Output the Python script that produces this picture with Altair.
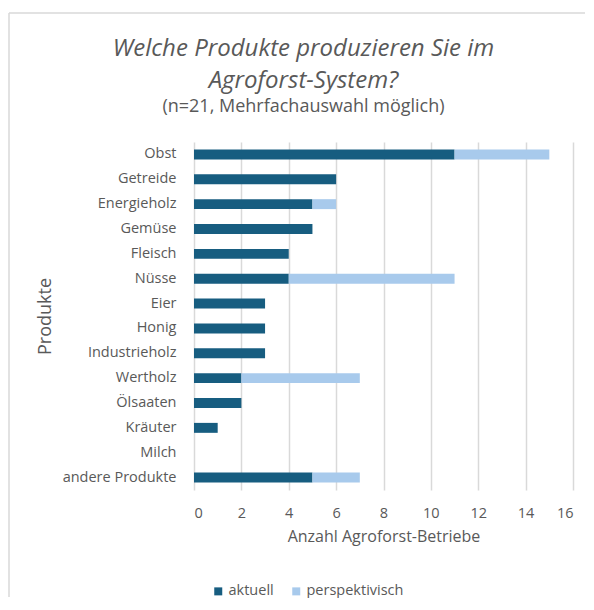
import altair as alt
import pandas as pd

products = ["Obst", "Getreide", "Energieholz", "Gemüse", "Fleisch", "Nüsse", "Eier",
            "Honig", "Industrieholz", "Wertholz", "Ölsaaten", "Kräuter", "Milch",
            "andere Produkte"]
aktuell = [11, 6, 5, 5, 4, 4, 3, 3, 3, 2, 2, 1, 0, 5]
perspektivisch = [4, 0, 1, 0, 0, 7, 0, 0, 0, 5, 0, 0, 0, 2]
series = ["aktuell", "perspektivisch"]
colors = ["#175D80", "#A8CAEC"]
x_ticks = [0, 2, 4, 6, 8, 10, 12, 14, 16]

rows = []
for p, a, q in zip(products, aktuell, perspektivisch):
    rows.append({"Produkt": p, "Serie": series[0], "Wert": a, "ord": 0})
    rows.append({"Produkt": p, "Serie": series[1], "Wert": q, "ord": 1})
df = pd.DataFrame(rows)

FONT = "Open Sans"
GREY = "#595959"

bars = alt.Chart(df).mark_bar().encode(
    y=alt.Y("Produkt:N", sort=products,
            scale=alt.Scale(paddingInner=0.6, paddingOuter=0.3),
            axis=alt.Axis(title="Produkte", ticks=False, domain=False, grid=False,
                          labelPadding=18, labelFontSize=14.5, titleFontSize=18,
                          titlePadding=8)),
    x=alt.X("Wert:Q", stack="zero",
            scale=alt.Scale(domain=[0, 16], nice=False),
            axis=alt.Axis(title="Anzahl Agroforst-Betriebe", values=x_ticks,
                          ticks=False, domain=False, grid=True,
                          gridColor="#d9d9d9", gridWidth=1.5,
                          labelPadding=16, labelFontSize=14.5, titleFontSize=16,
                          titlePadding=9)),
    color=alt.Color("Serie:N", scale=alt.Scale(domain=series, range=colors),
                    legend=alt.Legend(title=None, orient="none", direction="horizontal",
                                      legendX=17, legendY=442, symbolType="square",
                                      symbolSize=64, symbolStrokeWidth=0,
                                      labelFontSize=14.5, labelOffset=3,
                                      columnPadding=15, labelColor=GREY,
                                      labelFont=FONT)),
    order=alt.Order("ord:Q"),
)

frame_df = pd.DataFrame({"k": [0]})
frame_top = alt.Chart(frame_df).mark_rule(color="#d9d9d9", strokeWidth=1.5).encode(
    x=alt.value(-185), x2=alt.value(391), y=alt.value(-129))
frame_left = alt.Chart(frame_df).mark_rule(color="#d9d9d9", strokeWidth=1.5).encode(
    x=alt.value(-185), y=alt.value(-129), y2=alt.value(455))

chart = alt.layer(bars, frame_top, frame_left).properties(
    width=379, height=348,
    padding={"left": 0, "top": 4, "right": 0, "bottom": 0},
    title=alt.TitleParams(
        text=["Welche Produkte produzieren Sie im", "Agroforst-System?"],
        subtitle="(n=21, Mehrfachauswahl möglich)",
        anchor="middle", dx=-80, fontSize=24, fontStyle="italic",
        fontWeight="normal", color=GREY, font=FONT, lineHeight=32,
        subtitleFontSize=18, subtitleColor=GREY, subtitleFont=FONT,
        subtitlePadding=5, offset=-104),
).configure_view(stroke=None).configure_axis(
    labelColor=GREY, titleColor=GREY, labelFont=FONT, titleFont=FONT,
    titleFontWeight="normal")

chart.save("out.html", embed_options={"renderer": "svg", "actions": False})
